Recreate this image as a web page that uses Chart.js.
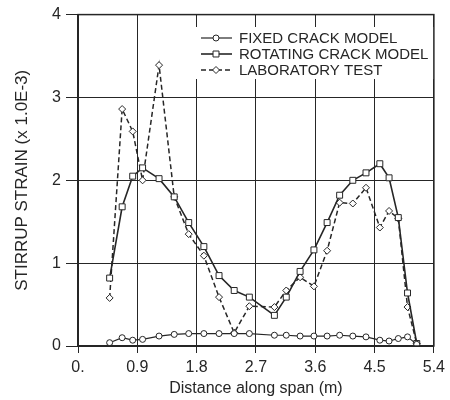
<!DOCTYPE html>
<html>
<head>
<meta charset="utf-8">
<script src="https://cdn.jsdelivr.net/npm/chart.js@4.4.0/dist/chart.umd.min.js"></script>
<style>
  body { margin: 0; background: #fff; }
  #wrap { width: 450px; height: 400px; }
</style>
</head>
<body>
<div id="wrap"><canvas id="chart" width="450" height="400"></canvas></div>
<script>
// stations along the span (m)
const spanX = [0.48, 0.67, 0.83, 0.98, 1.23, 1.46, 1.68, 1.91, 2.14, 2.37, 2.6, 2.98,
               3.16, 3.37, 3.58, 3.78, 3.97, 4.17, 4.37, 4.58, 4.72, 4.86, 5.0, 5.14];

// stirrup strain (x 1.0E-3)
const fixedCrack = [0.04, 0.1, 0.07, 0.08, 0.12, 0.14, 0.15, 0.15, 0.15, 0.15, 0.15, 0.13,
                    0.13, 0.12, 0.12, 0.12, 0.13, 0.12, 0.11, 0.07, 0.06, 0.09, 0.11, 0.02];
const rotatingCrack = [0.82, 1.68, 2.05, 2.15, 2.02, 1.8, 1.49, 1.2, 0.85, 0.67, 0.59, 0.37,
                       0.59, 0.9, 1.16, 1.49, 1.82, 2.0, 2.09, 2.2, 2.03, 1.55, 0.64, 0.03];
const labTest = [0.58, 2.86, 2.59, 2.0, 3.39, 1.8, 1.35, 1.09, 0.59, 0.16, 0.48, 0.47,
                 0.67, 0.83, 0.72, 1.15, 1.73, 1.72, 1.91, 1.43, 1.63, 1.54, 0.47, 0.03];

const seriesNames = ['FIXED CRACK MODEL', 'ROTATING CRACK MODEL', 'LABORATORY TEST'];

const xTicks = [0, 0.9, 1.8, 2.7, 3.6, 4.5, 5.4];
const yTicks = [0, 1, 2, 3, 4];

const INK = '#262626';
const FONT = 'Arial, "Liberation Sans", Helvetica, sans-serif';

const toPoints = (ys) => ys.map((y, i) => ({ x: spanX[i], y }));

// 그림 테두리 (위/오른쪽 포함)
const framePlugin = {
    id: 'frame',
    afterDraw(chart) {
        const { ctx, chartArea: a } = chart;
        ctx.save();
        ctx.strokeStyle = INK;
        ctx.lineWidth = 1.5;
        ctx.strokeRect(a.left, a.top, a.right - a.left, a.bottom - a.top);
        ctx.restore();
    }
};

// 플롯 안쪽 오른쪽 위 범례
const insideLegend = {
    id: 'insideLegend',
    afterDatasetsDraw(chart) {
        const { ctx } = chart;
        ctx.save();
        ctx.fillStyle = '#fff';
        ctx.fillRect(196, 27, 238, 52);
        const rows = [38, 54, 70];
        chart.data.datasets.forEach((ds, i) => {
            const y = rows[i];
            ctx.strokeStyle = INK;
            ctx.lineWidth = ds.borderWidth;
            ctx.setLineDash(ds.borderDash || []);
            ctx.beginPath();
            ctx.moveTo(201, y);
            ctx.lineTo(232, y);
            ctx.stroke();
            ctx.setLineDash([]);
            ctx.fillStyle = '#fff';
            ctx.lineWidth = 1;
            Chart.helpers.drawPoint(ctx, {
                pointStyle: ds.pointStyle,
                radius: ds.pointRadius,
                borderWidth: 1
            }, 216, y);
            ctx.fillStyle = INK;
            ctx.font = '15px ' + FONT;
            ctx.textBaseline = 'middle';
            ctx.textAlign = 'left';
            ctx.fillText(ds.label, 239, y + 1);
        });
        ctx.restore();
    }
};

const lineDefaults = {
    borderColor: INK,
    pointBorderColor: INK,
    pointBackgroundColor: '#fff',
    pointBorderWidth: 1,
    fill: false,
    tension: 0
};

new Chart(document.getElementById('chart'), {
    type: 'line',
    data: {
        datasets: [
            { ...lineDefaults, label: seriesNames[0], data: toPoints(fixedCrack),
              borderWidth: 1.2, pointStyle: 'circle', pointRadius: 3 },
            { ...lineDefaults, label: seriesNames[1], data: toPoints(rotatingCrack),
              borderWidth: 1.6, pointStyle: 'rect', pointRadius: 4.2 },
            { ...lineDefaults, label: seriesNames[2], data: toPoints(labTest),
              borderWidth: 1.5, borderDash: [5, 3], pointStyle: 'rectRot', pointRadius: 3.5 }
        ]
    },
    options: {
        responsive: false,
        animation: false,
        layout: { padding: { top: 13, right: 12, left: 0, bottom: 0 } },
        plugins: {
            legend: { display: false },
            tooltip: { enabled: false }
        },
        scales: {
            x: {
                type: 'linear',
                min: 0, max: 5.4,
                afterBuildTicks: (s) => { s.ticks = xTicks.map(v => ({ value: v })); },
                afterFit: (s) => { s.height = 54; },
                ticks: {
                    color: INK,
                    font: { family: FONT, size: 16 },
                    padding: 5,
                    maxRotation: 0,
                    callback: (v) => v === 0 ? '0.' : v.toFixed(1)
                },
                grid: {
                    color: INK, lineWidth: 1, borderDash: [2, 3],
                    tickLength: 7, tickBorderDash: [], tickColor: INK
                },
                border: { display: true, color: INK, width: 1.5 },
                title: {
                    display: true, text: 'Distance along span (m)', color: INK,
                    font: { family: FONT, size: 16 }, padding: { top: 0, bottom: 2 }
                }
            },
            y: {
                min: 0, max: 4,
                afterBuildTicks: (s) => { s.ticks = yTicks.map(v => ({ value: v })); },
                afterFit: (s) => { s.width = 78; },
                ticks: {
                    color: INK,
                    font: { family: FONT, size: 16 },
                    padding: 5,
                    callback: (v) => String(v)
                },
                grid: {
                    color: INK, lineWidth: 1, borderDash: [2, 3],
                    tickLength: 12, tickBorderDash: [], tickColor: INK
                },
                border: { display: true, color: INK, width: 2 },
                title: {
                    display: true, text: 'STIRRUP STRAIN (x 1.0E-3)', color: INK,
                    font: { family: FONT, size: 17 }, padding: { top: 12, bottom: 0 }
                }
            }
        }
    },
    plugins: [framePlugin, insideLegend]
});
</script>
</body>
</html>
